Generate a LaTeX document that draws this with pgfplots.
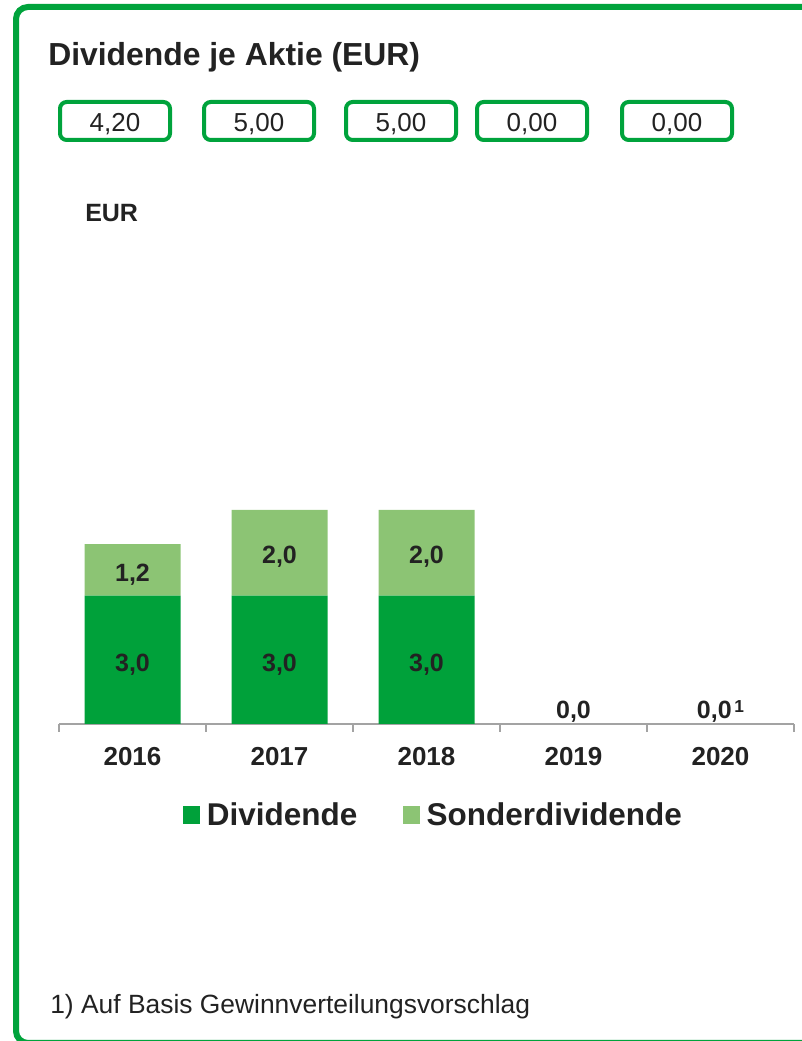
\documentclass[border=0pt]{standalone}
\usepackage{fontspec}
\setmainfont{Liberation Sans}
\usepackage{pgfplots}
\pgfplotsset{compat=1.18}
\definecolor{dgreen}{HTML}{00A13A}
\definecolor{lgreen}{HTML}{8CC474}
\definecolor{bgreen}{HTML}{00A33C}
\definecolor{txt}{HTML}{222222}
\definecolor{axgray}{HTML}{A3A3A3}
\tikzset{lbl/.style={font=\bfseries\fontsize{18.75}{20}\selectfont, text=txt, inner sep=0pt, anchor=base}}
\begin{document}
\begin{tikzpicture}[x=0.75pt,y=0.75pt]
\useasboundingbox (0,0) rectangle (802,1041);
\begin{scope}
\clip (0,0) rectangle (802,1041);
\draw[bgreen, line width=4.5pt, rounded corners=9pt] (16,-2) rectangle (840,1034);
\end{scope}
\node[anchor=base west, inner sep=0pt, text=txt, font=\bfseries\fontsize{23.9}{28}\selectfont] at (48,975) {Dividende je Aktie (EUR)};
% boxes
\begin{scope}[bgreen, line width=3pt, rounded corners=5pt]
\draw (60,901) rectangle (170,939);
\draw (204,901) rectangle (314,939);
\draw (346,901) rectangle (456,939);
\draw (477,901) rectangle (587,939);
\draw (622,901) rectangle (732,939);
\end{scope}
\begin{scope}[every node/.style={anchor=base, inner sep=0pt, text=txt, font=\fontsize{19.5}{22}\selectfont}]
\node at (115,909) {4,20};
\node at (259,909) {5,00};
\node at (401,909) {5,00};
\node at (532,909) {0,00};
\node at (677,909) {0,00};
\end{scope}
\node[anchor=base west, inner sep=0pt, text=txt, font=\bfseries\fontsize{18.75}{20}\selectfont] at (85,819) {EUR};
\node[anchor=base west, inner sep=0pt, text=txt, font=\fontsize{19.8}{22}\selectfont] at (50,27) {1) Auf Basis Gewinnverteilungsvorschlag};
\begin{axis}[
  at={(44.25pt,237.75pt)}, anchor=south west,
  width=551.25pt, height=321pt, scale only axis,
  xmin=-0.5, xmax=4.5, ymin=0, ymax=10,
  ybar stacked, bar width=72pt,
  hide y axis, axis x line*=bottom,
  x axis line style={-, draw=axgray, line width=1.5pt},
  xtick={0,1,2,3,4}, xticklabels={2016,2017,2018,2019,2020},
  major tick length=0pt,
  minor xtick={-0.5,0.5,1.5,2.5,3.5,4.5}, minor tick length=6pt,
  tick align=outside,
  tick style={draw=axgray, line width=1.5pt},
  xticklabel style={anchor=base, yshift=-31.5pt, font=\bfseries\fontsize{19.5}{20}\selectfont, text=txt},
  clip=false,
  legend columns=2,
  legend style={at={(0.1687,-0.2126)}, anchor=west, draw=none, fill=none,
    font=\bfseries\fontsize{23.6}{26}\selectfont, text=txt, inner sep=0pt,
    /tikz/every odd column/.append style={column sep=3pt},
    /tikz/every even column/.append style={column sep=32.25pt}},
  legend image code/.code={\fill[#1] (0pt,-6.4pt) rectangle (12.75pt,6.4pt);},
]
\addplot[fill=dgreen, draw=none] coordinates {(0,3) (1,3) (2,3) (3,0) (4,0)};
\addlegendentry{Dividende}
\addplot[fill=lgreen, draw=none] coordinates {(0,1.2) (1,2) (2,2) (3,0) (4,0)};
\addlegendentry{Sonderdividende}
\coordinate (a1) at (axis cs:0,1.215);
\coordinate (a2) at (axis cs:1,1.215);
\coordinate (a3) at (axis cs:2,1.215);
\coordinate (b1) at (axis cs:0,3.32);
\coordinate (b2) at (axis cs:1,3.74);
\coordinate (b3) at (axis cs:2,3.74);
\coordinate (c4) at (axis cs:3,0.12);
\coordinate (c5) at (axis cs:4,0.12);
\end{axis}
\node[lbl] at (a1) {3,0};
\node[lbl] at (a2) {3,0};
\node[lbl] at (a3) {3,0};
\node[lbl] at (b1) {1,2};
\node[lbl] at (b2) {2,0};
\node[lbl] at (b3) {2,0};
\node[lbl] at (c4) {0,0};
\node[lbl] at (c5) {0,0\hspace{2pt}\raisebox{5pt}{\fontsize{13}{14}\selectfont 1}};
\end{tikzpicture}
\end{document}
